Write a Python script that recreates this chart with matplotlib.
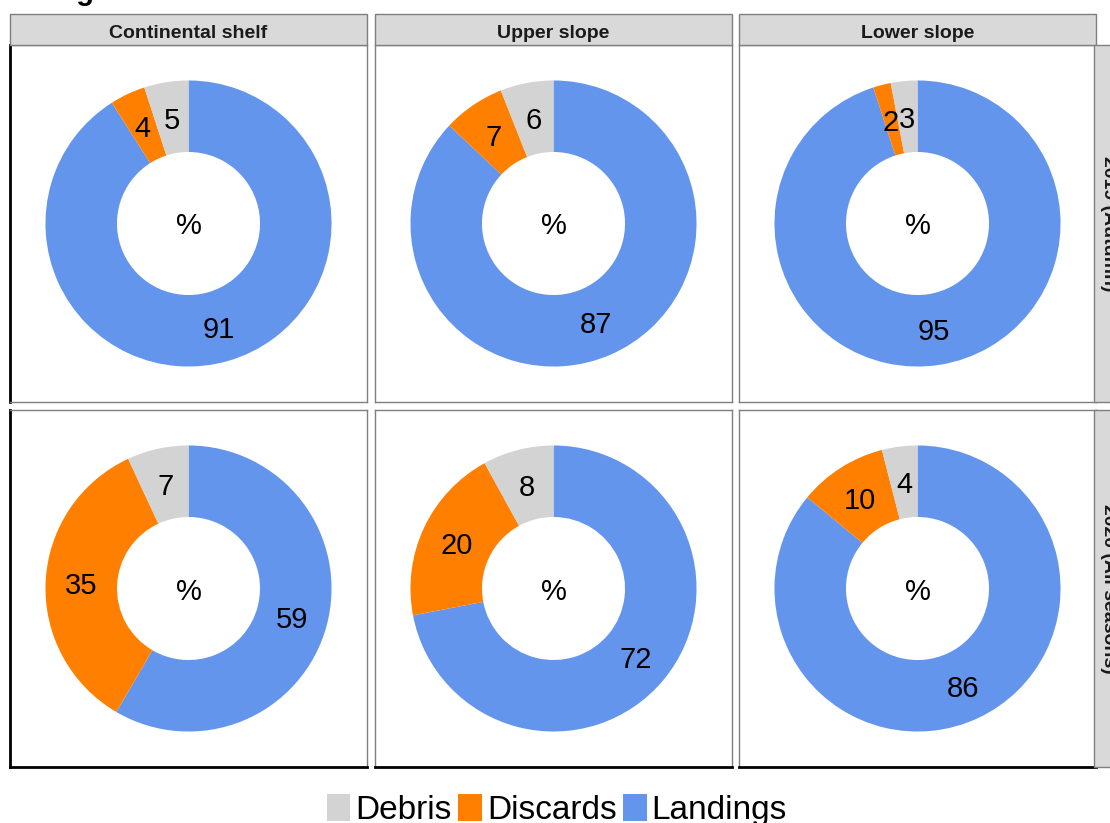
import matplotlib.pyplot as plt
from matplotlib.patches import Patch, Rectangle

plt.rcParams['font.family'] = ['Liberation Sans', 'DejaVu Sans']

# data
habitats = ["Continental shelf", "Upper slope", "Lower slope"]
years = ["2019 (Autumn)", "2020 (All seasons)"]
categories = ["Landings", "Discards", "Debris"]
colors = ["#6495ED", "#FF7F00", "#D3D3D3"]
values = {
    "2019 (Autumn)": [[91, 4, 5], [87, 7, 6], [95, 2, 3]],
    "2020 (All seasons)": [[59, 35, 7], [72, 20, 8], [86, 10, 4]],
}

W, H = 1110, 823
fig = plt.figure(figsize=(W / 100, H / 100), dpi=100)

lefts = [10, 375, 739]
tops = [45, 410]
size = 357


def fx(px):
    return px / W


def fy(py):
    return 1 - py / H


for r, yr in enumerate(years):
    for c, hab in enumerate(habitats):
        x0, y0 = lefts[c], tops[r]
        ax = fig.add_axes([fx(x0), fy(y0 + size), size / W, size / H])
        vals = values[yr][c]
        it = iter(vals)
        ax.pie(vals, colors=colors, startangle=90, counterclock=False,
               radius=1, wedgeprops=dict(width=0.5, linewidth=0),
               autopct=lambda p: str(next(it)), pctdistance=0.75,
               textprops=dict(fontsize=21, color='black', va='center_baseline'))
        ax.text(0, 0, "%", ha='center', va='center_baseline', fontsize=21)
        ax.set_frame_on(True)
        ax.set_xlim(-1.248, 1.248)
        ax.set_ylim(-1.248, 1.248)
        ax.set_aspect('auto')
        ax.set_xticks([])
        ax.set_yticks([])
        for s in ax.spines.values():
            s.set_visible(True)
            s.set_color('#7f7f7f')
            s.set_linewidth(1)
        if c == 0:
            ax.spines['left'].set_color('black')
            ax.spines['left'].set_linewidth(2)
        if r == 1:
            ax.spines['bottom'].set_color('black')
            ax.spines['bottom'].set_linewidth(2)

        # top strips
        if r == 0:
            fig.patches.append(Rectangle((fx(x0), fy(45)), size / W, 31 / H,
                                         transform=fig.transFigure,
                                         facecolor='#D9D9D9', edgecolor='#7f7f7f',
                                         linewidth=1))
            fig.text(fx(x0 + size / 2), fy(31), hab, ha='center',
                     va='center_baseline', fontsize=14, fontweight='bold',
                     color='#1a1a1a')

    # right strips
    y0 = tops[r]
    fig.patches.append(Rectangle((fx(1094), fy(y0 + size)), 31 / W, size / H,
                                 transform=fig.transFigure,
                                 facecolor='#D9D9D9', edgecolor='#7f7f7f',
                                 linewidth=1))
    fig.text(fx(1109), fy(y0 + size / 2), yr, ha='center', va='center',
             rotation=-90, fontsize=14, fontweight='bold', color='#1a1a1a')

# title, mostly cut off at the top
fig.text(fx(14), fy(0.5), "Categories", ha='left', va='baseline',
         fontsize=21, fontweight='bold')

handles = [Patch(facecolor=colors[2]), Patch(facecolor=colors[1]),
           Patch(facecolor=colors[0])]
fig.legend(handles, ["Debris", "Discards", "Landings"], loc='center',
           bbox_to_anchor=(fx(557), fy(810)), ncol=3, frameon=False,
           fontsize=24, handlelength=0.7, handleheight=0.85,
           handletextpad=0.15, columnspacing=0.2)

fig.savefig("out.png", dpi=100)
